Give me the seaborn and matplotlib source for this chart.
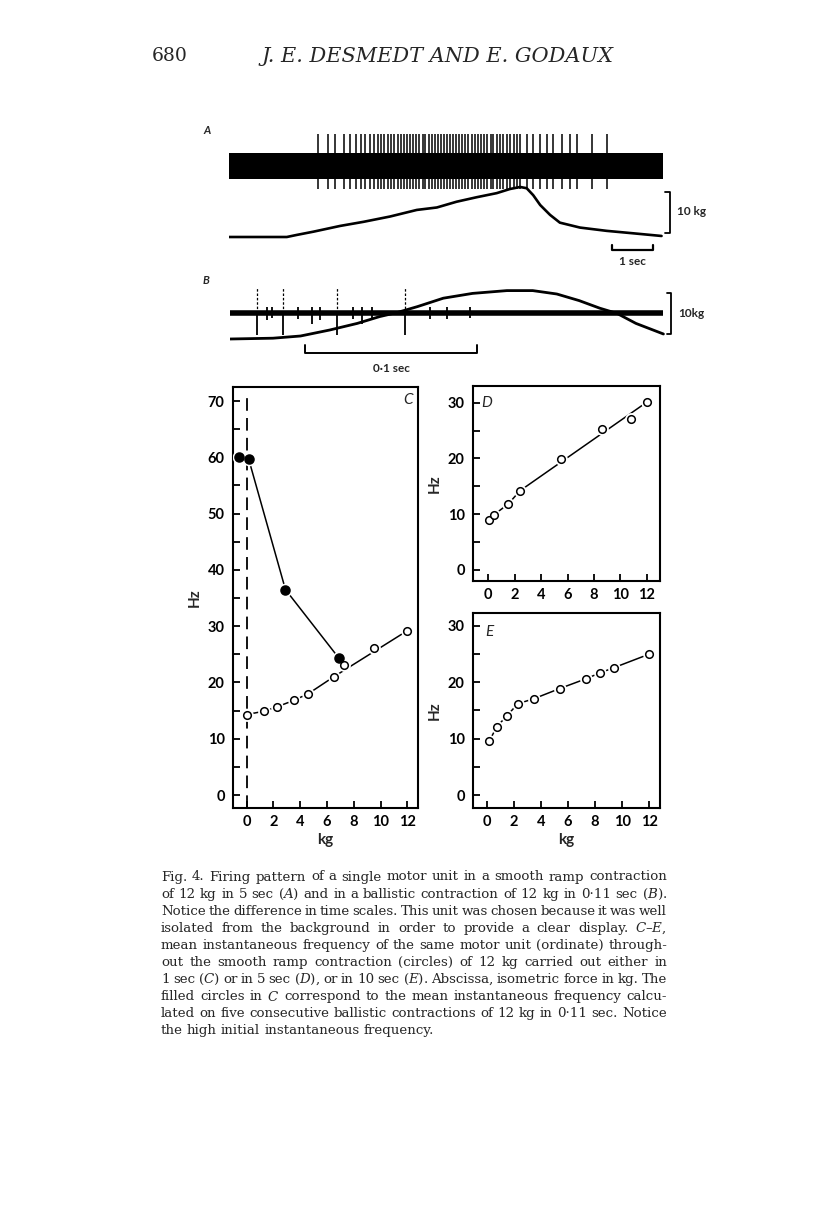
import numpy as np
import pandas as pd
import matplotlib
matplotlib.use("Agg")
import matplotlib.pyplot as plt
import seaborn as sns

# --- valeurs ---
# A : rampe lente (temps en s, force en kg)
a_force_t = [0.0, 1.41, 1.65, 2.06, 2.71, 3.28, 3.93, 4.58, 5.07, 5.55, 6.04,
             6.53, 6.85, 7.10, 7.26, 7.42, 7.59, 7.83, 8.07, 8.56, 9.21, 9.86, 10.55]
a_force_kg = [0.0, 0.0, 0.5, 1.3, 2.7, 3.7, 5.0, 6.6, 7.2, 8.6, 9.7,
              10.7, 11.7, 12.2, 11.9, 10.2, 7.8, 5.4, 3.5, 2.3, 1.5, 0.9, 0.25]
a_spike_t = [2.18, 2.42, 2.59, 2.80, 2.95, 3.09, 3.21, 3.32, 3.44, 3.54, 3.63,
             3.71, 3.79, 3.87, 3.95, 4.03, 4.11, 4.19, 4.26, 4.33, 4.41, 4.49,
             4.56, 4.64, 4.72, 4.79, 4.87, 4.94, 5.02, 5.09, 5.16, 5.24, 5.32,
             5.39, 5.47, 5.54, 5.62, 5.69, 5.76, 5.84, 5.92, 6.00, 6.07, 6.15,
             6.22, 6.30, 6.38, 6.45, 6.53, 6.61, 6.69, 6.77, 6.85, 6.94, 7.02,
             7.10, 7.26, 7.42, 7.59, 7.75, 7.91, 8.11, 8.32, 8.48, 8.85, 9.21]
a_duration = 10.58

# B : contraction balistique (temps en s, force en kg)
b_force_t = [0.0, 0.025, 0.041, 0.058, 0.074, 0.087, 0.097, 0.109, 0.124,
             0.141, 0.161, 0.176, 0.190, 0.203, 0.215, 0.225, 0.236, 0.252]
b_force_kg = [0.0, 0.2, 0.75, 2.25, 3.9, 5.6, 6.6, 8.1, 10.2,
              11.4, 12.1, 12.1, 11.25, 9.6, 7.7, 6.4, 3.9, 1.25]
b_big_spike_t = [0.0155, 0.0306, 0.0620, 0.1017]
b_small_spike_t = [0.0213, 0.0242, 0.0397, 0.0475, 0.0523, 0.0717, 0.0766,
                   0.0824, 0.1163, 0.1260, 0.1395]
b_small_spike_down = [1.4, 1.0, 1.2, 2.2, 1.4, 1.2, 2.2, 1.4, 1.2, 1.2, 1.0]
b_duration = 0.252

# C : 1 sec (cercles ouverts) et balistique (cercles pleins)
c_open_kg = [0.0, 1.3, 2.3, 3.5, 4.6, 6.5, 7.3, 9.5, 12.0]
c_open_hz = [14.3, 14.9, 15.7, 16.8, 18.0, 21.0, 23.1, 26.1, 29.2]
c_fit_kg = [6.5, 12.0]
c_fit_hz = [21.0, 29.2]
c_fill_kg = [-0.57, 0.15, 2.9, 6.9]
c_fill_hz = [60.0, 59.7, 36.5, 24.3]
c_onset_kg = 0.0

# D : 5 sec
d_kg = [0.05, 0.43, 1.5, 2.4, 5.5, 8.6, 10.8, 12.0]
d_hz = [9.0, 9.9, 11.8, 14.2, 19.9, 25.2, 27.0, 30.1]
d_fit_kg = [2.4, 12.0]
d_fit_hz = [14.2, 30.1]

# E : 10 sec
e_kg = [0.2, 0.74, 1.47, 2.3, 3.5, 5.4, 7.3, 8.4, 9.4, 12.0]
e_hz = [9.6, 12.1, 14.0, 16.2, 17.1, 18.9, 20.6, 21.7, 22.6, 25.0]

caption_lines = [
    "Fig. 4. Firing pattern of a single motor unit in a smooth ramp contraction",
    "of 12 kg in 5 sec ($\\mathit{A}$) and in a ballistic contraction of 12 kg in 0·11 sec ($\\mathit{B}$).",
    "Notice the difference in time scales. This unit was chosen because it was well",
    "isolated from the background in order to provide a clear display. $\\mathit{C}$–$\\mathit{E}$,",
    "mean instantaneous frequency of the same motor unit (ordinate) through-",
    "out the smooth ramp contraction (circles) of 12 kg carried out either in",
    "1 sec ($\\mathit{C}$) or in 5 sec ($\\mathit{D}$), or in 10 sec ($\\mathit{E}$). Abscissa, isometric force in kg. The",
    "filled circles in $\\mathit{C}$ correspond to the mean instantaneous frequency calcu-",
    "lated on five consecutive ballistic contractions of 12 kg in 0·11 sec. Notice",
    "the high initial instantaneous frequency.",
]

# --- mise en page ---
sns.set_theme(style="ticks")
plt.rcParams["font.family"] = ["Lato", "DejaVu Sans"]
plt.rcParams["mathtext.fontset"] = "dejavuserif"

W, H = 816, 1212
fig = plt.figure(figsize=(W / 100, H / 100), dpi=100)
fig.patch.set_facecolor("white")


def px_axes(x0, y0, x1, y1):
    return fig.add_axes([x0 / W, 1 - y1 / H, (x1 - x0) / W, (y1 - y0) / H])


# en-tête
serif = ["DejaVu Serif"]
fig.text(152 / W, 1 - 56 / H, "680", family=serif, fontsize=13.5, va="center")
fig.text(437 / W, 1 - 56 / H, "J. E. DESMEDT AND E. GODAUX", family=serif,
         style="italic", fontsize=15, va="center", ha="center")

# --- A ---
ax_a = px_axes(229, 125, 700, 270)
ax_a.set_xlim(0, 471 / 41)
ax_a.set_ylim(-33 / 4.1, 112 / 4.1)
ax_a.axis("off")
sns.lineplot(x=a_force_t, y=a_force_kg, ax=ax_a, sort=False, estimator=None,
             color="black", lw=1.9)
# barres d'échelle
ax_a.plot([10.64, 10.76, 10.76, 10.64], [1.0, 1.0, 11.0, 11.0], color="black",
          lw=1.3, clip_on=False)
ax_a.text(10.92, 6.2, "10 kg", fontsize=8.5, fontweight="bold", va="center")
ax_a.plot([9.34, 9.34, 10.34, 10.34], [-2.0, -3.2, -3.2, -2.0], color="black", lw=1.6)
ax_a.text(9.84, -6.0, "1 sec", fontsize=8.5, fontweight="bold", ha="center", va="center")

ax_a_emg = ax_a.twinx()
ax_a_emg.set_ylim((166 - 270) / 13, (166 - 125) / 13)
ax_a_emg.axis("off")
ax_a_emg.fill_between([0, a_duration], -1.0, 1.0, color="black", lw=0)
ax_a_emg.vlines(a_spike_t, -1.8, 2.5, color="black", lw=1.1)

# --- B ---
ax_b = px_axes(230, 280, 700, 375)
ax_b.set_xlim(0, 470 / 1720)
ax_b.set_ylim(-9, 14.75)
ax_b.axis("off")
sns.lineplot(x=b_force_t, y=b_force_kg, ax=ax_b, sort=False, estimator=None,
             color="black", lw=2.0)
ax_b.plot([0.2542, 0.2565, 0.2565, 0.2542], [1.25, 1.25, 11.4, 11.4], color="black",
          lw=1.3, clip_on=False)
ax_b.text(0.2605, 6.5, "10kg", fontsize=8.5, fontweight="bold", va="center")
ax_b.plot([0.0436, 0.0436, 0.1436, 0.1436], [-1.5, -3.5, -3.5, -1.5], color="black", lw=1.4)
ax_b.text(0.0936, -7.3, "0·1 sec", fontsize=8.5, fontweight="bold", ha="center", va="center")

ax_b_emg = ax_b.twinx()
ax_b_emg.set_ylim(-(375 - 313) / 5, (313 - 280) / 5)
ax_b_emg.axis("off")
ax_b_emg.plot([0, b_duration], [0, 0], color="black", lw=4.0, solid_capstyle="butt")
ax_b_emg.vlines(b_big_spike_t, 0, 5.0, color="black", lw=0.9, linestyles=(0, (2, 1.5)))
ax_b_emg.vlines(b_big_spike_t, -4.4, 0, color="black", lw=1.3)
ax_b_emg.vlines(b_small_spike_t, [-d for d in b_small_spike_down], 1.2,
                color="black", lw=1.3)

fig.text(203 / W, 1 - 130 / H, "A", fontsize=8, style="italic", fontweight="bold",
         va="center")
fig.text(203 / W, 1 - 280 / H, "B", fontsize=8, style="italic", fontweight="bold",
         va="center")


# --- C, D, E ---
def style_panel(ax, xlim, ylim, yticks, ymin_ticks, letter, lpos, xlabel=True):
    ax.set_xlim(*xlim)
    ax.set_ylim(*ylim)
    ax.set_xticks(range(0, 13, 2))
    ax.set_yticks(yticks)
    ax.set_yticks(ymin_ticks, minor=True)
    for s in ax.spines.values():
        s.set_visible(True)
        s.set_linewidth(1.5)
        s.set_color("black")
    ax.tick_params(axis="both", which="both", direction="in", length=5, width=1.3,
                   colors="black", labelsize=10.5)
    ax.tick_params(axis="y", pad=6)
    ax.tick_params(axis="x", pad=5)
    ax.set_ylabel("Hz", fontsize=11, fontweight="bold", labelpad=4)
    ax.set_xlabel("kg" if xlabel else "", fontsize=11, fontweight="bold", labelpad=3)
    ax.text(lpos[0], lpos[1], letter, transform=ax.transAxes, fontsize=11,
            style="italic", va="center", ha="center")
    ax.set_facecolor("white")


def circles(ax, x, y, filled=False):
    s = 42 if filled else 30
    sns.scatterplot(x=x, y=y, ax=ax, s=s + 55, color="white", linewidth=0, zorder=3)
    sns.scatterplot(x=x, y=y, ax=ax, s=s, color="black" if filled else "white",
                    edgecolor="black", linewidth=1.1, zorder=4)


line_kw = dict(sort=False, estimator=None, color="black", lw=1.1)

ax_c = px_axes(233, 387, 418, 808)
style_panel(ax_c, (-1.02, 12.8), (-2.3, 72.5), range(0, 71, 10), range(5, 70, 10),
            "C", (0.945, 0.969))
ax_c.vlines(c_onset_kg, -2.3, 70.5, color="black", lw=1.3, linestyles=(0, (7, 4)))
sns.lineplot(x=c_open_kg[:6], y=c_open_hz[:6], ax=ax_c, **line_kw)
sns.lineplot(x=c_fit_kg, y=c_fit_hz, ax=ax_c, **line_kw)
sns.lineplot(x=c_fill_kg, y=c_fill_hz, ax=ax_c, **line_kw)
circles(ax_c, c_open_kg, c_open_hz)
circles(ax_c, c_fill_kg, c_fill_hz, filled=True)

ax_d = px_axes(473, 386, 660, 581)
style_panel(ax_d, (-1.16, 13.0), (-2.0, 33.0), range(0, 31, 10), range(5, 30, 10),
            "D", (0.075, 0.915), xlabel=False)
sns.lineplot(x=d_kg[:4], y=d_hz[:4], ax=ax_d, **line_kw)
sns.lineplot(x=d_fit_kg, y=d_fit_hz, ax=ax_d, **line_kw)
circles(ax_d, d_kg, d_hz)

ax_e = px_axes(473, 613, 660, 808)
style_panel(ax_e, (-1.01, 12.8), (-2.3, 32.3), range(0, 31, 10), range(5, 30, 10),
            "E", (0.086, 0.90))
sns.lineplot(x=e_kg, y=e_hz, ax=ax_e, **line_kw)
circles(ax_e, e_kg, e_hz)

# étiquettes en gras, une fois tous les tracés faits
for ax in (ax_c, ax_d, ax_e):
    ax.set_xticks(range(0, 13, 2), [str(v) for v in range(0, 13, 2)],
                  fontweight="bold")
    yt = [int(v) for v in ax.get_yticks()]
    ax.set_yticks(yt, [str(v) for v in yt], fontweight="bold")

# --- légende justifiée ---
renderer = fig.canvas.get_renderer()
cap_x0, cap_x1 = 161, 667
cap_size = 9.6
space_px = cap_size * 0.30 * 100 / 72
for i, line in enumerate(caption_lines):
    y = 877 + 17.1 * i
    words = line.split(" ")
    size = cap_size
    while True:
        arts = [fig.text(0, 1 - y / H, w, family=serif, fontsize=size, va="center",
                         ha="left") for w in words]
        widths = [a.get_window_extent(renderer).width for a in arts]
        gap = (cap_x1 - cap_x0 - sum(widths)) / (len(words) - 1)
        if gap >= 2.5 or size < 7:
            break
        for a in arts:
            a.remove()
        size -= 0.2
    if i == len(caption_lines) - 1:
        gap = space_px
    x = cap_x0
    for a, w in zip(arts, widths):
        a.set_x(x / W)
        x += w + gap

fig.savefig("out.png", dpi=100, facecolor="white")
plt.close(fig)
